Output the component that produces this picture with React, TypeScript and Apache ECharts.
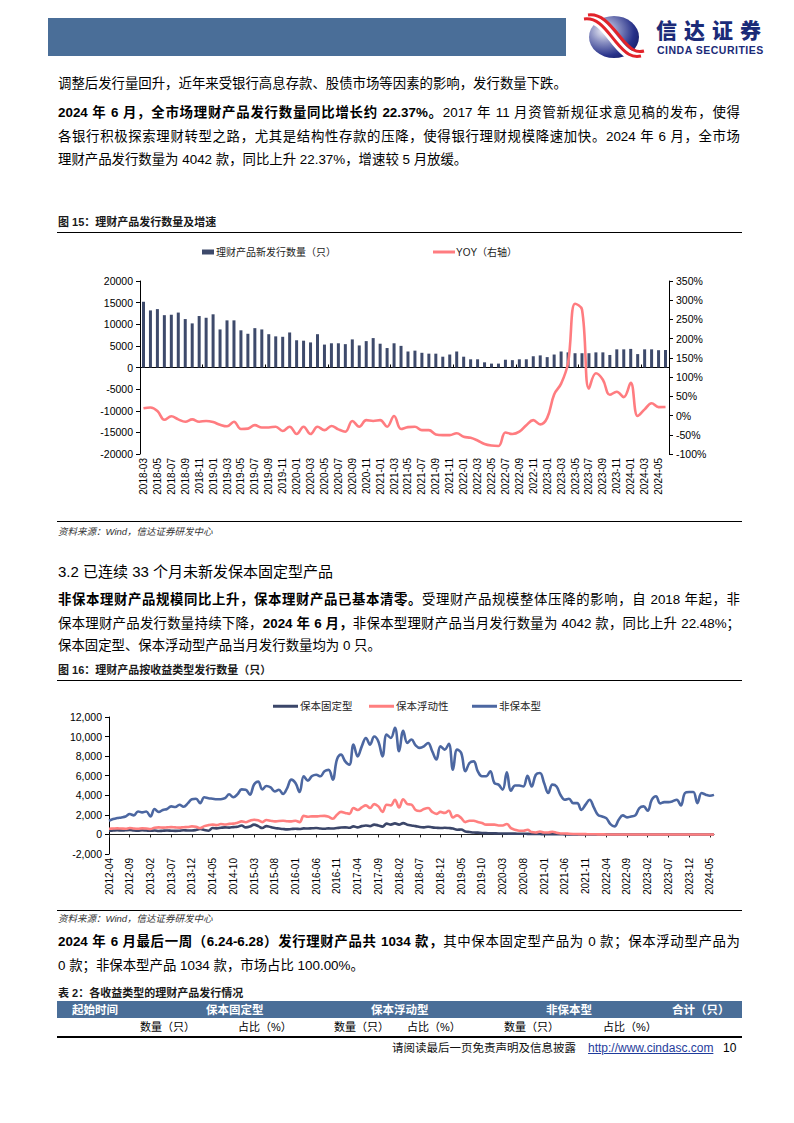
import React, { useEffect, useRef } from "react";
import * as echarts from "echarts";

function monthRange(y0: number, m0: number, y1: number, m1: number): string[] {
  const out: string[] = [];
  let y = y0, m = m0;
  while (y < y1 || (y === y1 && m <= m1)) {
    out.push(`${y}-${String(m).padStart(2, "0")}`);
    m++;
    if (m > 12) { m = 1; y++; }
  }
  return out;
}

// Chart 1: 2018-03 .. 2024-06
const months1 = monthRange(2018, 3, 2024, 6);
const barName = "理财产品新发行数量（只）";
const lineName = "YOY（右轴）";
const issueCount = [
  15200, 13200, 13500, 12100, 12200, 12700, 11200, 10200, 11900, 11500,
  12300, 8800, 10900, 10900, 8600, 7800, 9100, 8800, 7700, 7200,
  7100, 8100, 6300, 6200, 5800, 7700, 5300, 5600, 5600, 5400,
  6500, 5100, 6100, 6800, 5500, 4500, 5600, 5000, 3700, 3900,
  3400, 3200, 3200, 2500, 3000, 3700, 2500, 1900, 1900, 1200,
  900, 900, 1800, 1700, 1900, 1900, 2600, 2800, 2400, 3000,
  3700, 3500, 3300, 3300, 3300, 3500, 3500, 2900, 4200, 4200,
  4300, 3100, 4200, 4200, 4000, 4042,
];
const yoy = [
  19, 21, 12, -11, -2, -10, -16, -10, -16, -14,
  -17, -24, -28, -16, -35, -34, -25, -31, -31, -29,
  -40, -29, -48, -29, -48, -29, -38, -27, -36, -42,
  -14, -29, -12, -14, -12, -29, -1, -35, -30, -29,
  -38, -38, -49, -51, -51, -46, -55, -58, -65, -74,
  -78, -79, -44, -48, -42, -25, -12, -23, -6, 55,
  83, 137, 291, 276, 70, 110, 93, 54, 62, 48,
  85, -1, 16, 32, 22, 22.37,
];
const leftTicks1 = { min: -20000, max: 20000, interval: 5000 };
const rightTicks1 = { min: -100, max: 350, interval: 50 };

// Chart 2: 2012-04 .. 2024-06
const months2 = monthRange(2012, 4, 2024, 6);
const nameFixed = "保本固定型";
const nameFloat = "保本浮动性";
const nameNon = "非保本型";
const fixedVals = [
  380, 400, 420, 400, 430, 450, 400, 380, 420, 400,
  380, 400, 350, 380, 400, 380, 360, 380, 420, 400,
  400, 450, 550, 450, 380, 650, 620, 680, 720, 700,
  750, 780, 920, 720, 800, 1000, 850, 650, 850, 750,
  650, 600, 550, 520, 550, 580, 550, 620, 600, 630,
  650, 600, 580, 620, 600, 650, 700, 720, 680, 820,
  720, 850, 920, 850, 1000, 920, 800, 1100, 1000, 1130,
  1000, 1160, 1000, 920, 850, 750, 720, 780, 720, 680,
  650, 680, 650, 600, 480, 500, 300, 250, 200, 180,
  140, 130, 120, 110, 100, 100, 90, 80, 80, 70,
  70, 60, 50, 50, 40, 30, 30, 20, 20, 20,
  10, 10, 10, 10, 10, 0, 0, 0, 0, 0,
  0, 0, 0, 0, 0, 0, 0, 0, 0, 0,
  0, 0, 0, 0, 0, 0, 0, 0, 0, 0,
  0, 0, 0, 0, 0, 0, 0,
];
const floatVals = [
  580, 600, 620, 600, 580, 650, 600, 580, 620, 600,
  550, 680, 720, 700, 720, 750, 720, 700, 740, 760,
  820, 780, 650, 850, 950, 1000, 950, 1060, 1020, 1080,
  1100, 1200, 1330, 1250, 1400, 1500, 1450, 1260, 1470, 1400,
  1330, 1380, 1400, 1350, 1330, 1400, 1260, 1900, 1800, 1850,
  1840, 1880, 1900, 1800, 1600, 2000, 2300, 2200, 2100, 2700,
  2500, 2760, 2970, 2700, 3100, 2870, 2300, 3040, 2970, 3550,
  2760, 3600, 3100, 3040, 2500, 2400, 2600, 2700, 2300, 2100,
  2300, 2200, 2420, 1740, 1950, 1670, 1260, 1400, 1400, 1260,
  1160, 1000, 1000, 1000, 920, 920, 1060, 650, 480, 380,
  380, 480, 240, 200, 300, 200, 200, 270, 170, 100,
  100, 70, 50, 40, 30, 30, 20, 20, 10, 10,
  0, 0, 0, 0, 0, 0, 0, 0, 0, 0,
  0, 0, 0, 0, 0, 0, 0, 0, 0, 0,
  0, 0, 0, 0, 0, 0, 0,
];
const nonVals = [
  1400, 1570, 1670, 1740, 1840, 2080, 1950, 2350, 2250, 2350,
  1840, 2600, 2300, 2500, 2600, 2870, 2800, 3040, 2830, 3170,
  3600, 3650, 3200, 3800, 3700, 3650, 3600, 3600, 3700, 4100,
  3800, 4100, 4600, 4570, 4060, 5100, 5400, 4600, 4950, 4800,
  4400, 4570, 4130, 4740, 5600, 5260, 4330, 5940, 5500, 5970,
  6100, 5940, 6450, 6600, 5600, 7650, 8160, 7470, 7130, 9180,
  7980, 9000, 9860, 9180, 10000, 9500, 7980, 10200, 9860, 10900,
  8500, 10600, 9350, 9700, 9100, 8840, 9000, 9350, 8500, 7650,
  9000, 8670, 9250, 6620, 8670, 8330, 6450, 7300, 7470, 6450,
  5940, 5940, 6450, 5260, 5090, 4570, 6350, 4470, 5000, 5000,
  4900, 6000, 4900, 6100, 6280, 5260, 4230, 5090, 4900, 4000,
  3550, 3650, 3200, 3200, 2500, 3040, 3550, 2760, 2000, 1840,
  1670, 1060, 820, 1500, 1950, 1740, 1840, 1950, 2700, 2870,
  2420, 3550, 3900, 3170, 3300, 3300, 3380, 3550, 2970, 4230,
  4330, 4330, 3200, 4230, 4060, 3960, 4042,
];
const yTicks2 = { min: -2000, max: 12000, interval: 2000 };

const LAT = '"Liberation Sans", Arial, sans-serif';
const CJK = '"Liberation Sans", "Noto Sans CJK SC", sans-serif';
const HEADER_BLUE = "#4a6e98";

function option1(): any {
  const axisCol = "#000";
  return {
    animation: false,
    textStyle: { fontFamily: LAT },
    legend: [
      {
        data: [{ name: barName, icon: "rect" }],
        left: 140, top: 2, itemWidth: 12, itemHeight: 5, itemGap: 0,
        textStyle: { fontSize: 10, color: "#222", fontFamily: CJK, padding: [0, 0, 0, -3] },
      },
      {
        data: [{ name: lineName, icon: "rect" }],
        left: 371, top: 2, itemWidth: 22, itemHeight: 3, itemGap: 0,
        textStyle: { fontSize: 10, color: "#222", fontFamily: CJK, padding: [0, 0, 0, -4] },
      },
    ],
    grid: { left: 83, right: 73, top: 41, bottom: 66 },
    xAxis: [
      {
        type: "category", data: months1, position: "bottom",
        axisLine: { onZero: true, lineStyle: { color: axisCol, width: 1 } },
        axisTick: { show: true, inside: true, length: 3, lineStyle: { color: axisCol } },
        axisLabel: { show: false },
      },
      {
        type: "category", data: months1, position: "bottom",
        axisLine: { show: false, onZero: false },
        axisTick: { show: false },
        axisLabel: { rotate: 90, interval: 1, fontSize: 10, color: "#000", margin: 4, fontFamily: LAT },
      },
    ],
    yAxis: [
      {
        type: "value", ...leftTicks1,
        axisLine: { show: true, lineStyle: { color: axisCol } },
        axisTick: { show: true, length: 4, lineStyle: { color: axisCol } },
        splitLine: { show: false },
        axisLabel: { fontSize: 10.5, color: "#000", margin: 7, formatter: (v: number) => String(v) },
      },
      {
        type: "value", position: "right", ...rightTicks1,
        axisLine: { show: true, lineStyle: { color: axisCol } },
        axisTick: { show: true, length: 4, lineStyle: { color: axisCol } },
        splitLine: { show: false },
        axisLabel: { fontSize: 10.5, color: "#000", margin: 7, formatter: "{value}%" },
      },
    ],
    series: [
      {
        type: "bar", name: barName, data: issueCount, xAxisIndex: 0, yAxisIndex: 0,
        barWidth: 3, itemStyle: { color: "#3e4a6b" },
      },
      {
        type: "line", name: lineName, data: yoy, xAxisIndex: 0, yAxisIndex: 1,
        smooth: 0.4, symbol: "none",
        lineStyle: { width: 2.6, color: "#ff7c80" }, itemStyle: { color: "#ff7c80" },
      },
    ],
  };
}

function option2(): any {
  const axisCol = "#000";
  const leg = (name: string, left: number) => ({
    data: [{ name, icon: "rect" }],
    left, top: 8, itemWidth: 25, itemHeight: 3, itemGap: 0,
    textStyle: { fontSize: 10.5, color: "#222", fontFamily: CJK, padding: [0, 0, 0, -3] },
  });
  return {
    animation: false,
    textStyle: { fontFamily: LAT },
    legend: [leg(nameFixed, 211), leg(nameFloat, 307), leg(nameNon, 410)],
    grid: { left: 52, right: 28, top: 29, bottom: 56 },
    xAxis: [
      {
        type: "category", data: months2, boundaryGap: false, position: "bottom",
        axisLine: { onZero: true, lineStyle: { color: "#222", width: 1 } },
        axisTick: { show: true, interval: 4, length: 3, lineStyle: { color: "#222" } },
        axisLabel: { show: false },
      },
      {
        type: "category", data: months2, boundaryGap: false, position: "bottom",
        axisLine: { show: false, onZero: false },
        axisTick: { show: false },
        axisLabel: { rotate: 90, interval: 4, fontSize: 10, color: "#000", margin: 4, fontFamily: LAT },
      },
    ],
    yAxis: [
      {
        type: "value", ...yTicks2,
        axisLine: { show: true, lineStyle: { color: axisCol } },
        axisTick: { show: true, length: 4, lineStyle: { color: axisCol } },
        splitLine: { show: false },
        axisLabel: {
          fontSize: 10.5, color: "#000", margin: 7,
          formatter: (v: number) => v.toLocaleString("en-US"),
        },
      },
    ],
    series: [
      {
        type: "line", name: nameFixed, data: fixedVals, smooth: 0.4, symbol: "none",
        lineStyle: { width: 2.6, color: "#3b4669" }, itemStyle: { color: "#3b4669" }, z: 3,
      },
      {
        type: "line", name: nameFloat, data: floatVals, smooth: 0.4, symbol: "none",
        lineStyle: { width: 2.6, color: "#ff7f7f" }, itemStyle: { color: "#ff7f7f" }, z: 4,
      },
      {
        type: "line", name: nameNon, data: nonVals, smooth: 0.4, symbol: "none",
        lineStyle: { width: 2.6, color: "#4c67a1" }, itemStyle: { color: "#4c67a1" }, z: 5,
      },
    ],
  };
}

const J: React.CSSProperties = { textAlign: "justify", textAlignLast: "justify" as any };

function TextLine(props: {
  y: number; x?: number; w?: number; size?: number; justify?: boolean;
  style?: React.CSSProperties; children: React.ReactNode;
}) {
  const { y, x = 58, w = 682, size = 13.4, justify = false, style, children } = props;
  const lh = 20;
  return (
    <div
      style={{
        position: "absolute", left: x, top: y - lh / 2, width: w, height: lh,
        lineHeight: `${lh}px`, fontSize: size, whiteSpace: "nowrap", color: "#000",
        ...(justify ? J : {}), ...style,
      }}
    >
      {children}
    </div>
  );
}

const B = (p: { children: React.ReactNode }) => <b style={{ fontWeight: 700 }}>{p.children}</b>;

function HLine(p: { y: number; x1?: number; x2?: number; w?: number; color?: string }) {
  const { y, x1 = 57, x2 = 742, w = 1, color = "#000" } = p;
  return <div style={{ position: "absolute", left: x1, top: y - w / 2, width: x2 - x1, height: w, background: color }} />;
}

export default function App() {
  const r1 = useRef<HTMLDivElement>(null);
  const r2 = useRef<HTMLDivElement>(null);
  useEffect(() => {
    const c1 = echarts.init(r1.current!, null, { renderer: "svg" });
    c1.setOption(option1());
    const c2 = echarts.init(r2.current!, null, { renderer: "svg" });
    c2.setOption(option2());
    return () => {
      c1.dispose();
      c2.dispose();
    };
  }, []);

  const titleStyle: React.CSSProperties = { fontWeight: 700, color: "#1a1a1a" };
  const srcStyle: React.CSSProperties = { fontStyle: "italic", color: "#333" };

  return (
    <div
      style={{
        position: "absolute", left: 0, top: 0, width: 794, height: 1123,
        background: "#fff", fontFamily: CJK, overflow: "hidden",
      }}
    >
      {/* header */}
      <div style={{ position: "absolute", left: 48, top: 18, width: 518, height: 38, background: HEADER_BLUE }} />
      <svg style={{ position: "absolute", left: 0, top: 0 }} width={794} height={70}>
        <defs>
          <radialGradient id="lg" cx="0.3" cy="0.35" r="0.8">
            <stop offset="0" stopColor="#f2f3f8" />
            <stop offset="0.35" stopColor="#8a90c2" />
            <stop offset="0.75" stopColor="#28328a" />
            <stop offset="1" stopColor="#161d66" />
          </radialGradient>
        </defs>
        <ellipse cx={614} cy={37} rx={25} ry={21} fill="url(#lg)" />
        <path d="M584 19 C598 17, 606 30, 616 42 S 632 58, 641 56" stroke="#fff" strokeWidth={9} fill="none" />
        <path d="M584 19 C598 17, 606 30, 616 42 S 632 58, 641 56" stroke="#e2232a" strokeWidth={3} fill="none" />
        <path d="M588 15 C602 13, 611 26, 621 38 S 636 53, 644 51" stroke="#e2232a" strokeWidth={3} fill="none" />
      </svg>
      <div style={{ position: "absolute", left: 656, top: 19, height: 20, fontSize: 21, lineHeight: "20px", fontWeight: 900, color: "#1b2b78", fontFamily: '"Noto Sans CJK SC", sans-serif', letterSpacing: 7, whiteSpace: "nowrap" }}>
        信达证券
      </div>
      <div style={{ position: "absolute", left: 657, top: 45, height: 11, fontSize: 10.5, lineHeight: "11px", fontWeight: 700, color: "#1b2b78", fontFamily: LAT, letterSpacing: 0.5, whiteSpace: "nowrap" }}>
        CINDA SECURITIES
      </div>

      {/* paragraph 1 */}
      <TextLine y={84}>调整后发行量回升，近年来受银行高息存款、股债市场等因素的影响，发行数量下跌。</TextLine>
      <TextLine y={113} justify>
        <B>2024 年 6 月，全市场理财产品发行数量同比增长约 22.37%。</B>2017 年 11 月资管新规征求意见稿的发布，使得
      </TextLine>
      <TextLine y={137} justify>
        各银行积极探索理财转型之路，尤其是结构性存款的压降，使得银行理财规模降速加快。2024 年 6 月，全市场
      </TextLine>
      <TextLine y={160}>理财产品发行数量为 4042 款，同比上升 22.37%，增速较 5 月放缓。</TextLine>

      {/* figure 15 */}
      <TextLine y={222} size={11} style={titleStyle}>图 15：理财产品发行数量及增速</TextLine>
      <HLine y={232} />
      <div ref={r1} style={{ position: "absolute", left: 57, top: 240, width: 685, height: 280 }} />
      <HLine y={521} />
      <TextLine y={532} size={9.5} style={srcStyle}>资料来源：Wind，信达证券研发中心</TextLine>

      {/* section 3.2 */}
      <TextLine y={572} size={15}>3.2 已连续 33 个月未新发保本固定型产品</TextLine>
      <TextLine y={600} justify>
        <B>非保本理财产品规模同比上升，保本理财产品已基本清零。</B>受理财产品规模整体压降的影响，自 2018 年起，非
      </TextLine>
      <TextLine y={624} justify>
        保本理财产品发行数量持续下降，<B>2024 年 6 月，</B>非保本型理财产品当月发行数量为 4042 款，同比上升 22.48%；
      </TextLine>
      <TextLine y={646}>保本固定型、保本浮动型产品当月发行数量均为 0 只。</TextLine>

      {/* figure 16 */}
      <TextLine y={670} size={11} style={titleStyle}>图 16：理财产品按收益类型发行数量（只）</TextLine>
      <HLine y={680} />
      <div ref={r2} style={{ position: "absolute", left: 57, top: 688, width: 685, height: 222 }} />
      <HLine y={910} />
      <TextLine y={919} size={9.5} style={srcStyle}>资料来源：Wind，信达证券研发中心</TextLine>

      <TextLine y={942} justify>
        <B>2024 年 6 月最后一周（6.24-6.28）发行理财产品共 1034 款，</B>其中保本固定型产品为 0 款；保本浮动型产品为
      </TextLine>
      <TextLine y={966}>0 款；非保本型产品 1034 款，市场占比 100.00%。</TextLine>

      {/* table 2 */}
      <TextLine y={993} size={11} style={titleStyle}>表 2：各收益类型的理财产品发行情况</TextLine>
      <div style={{ position: "absolute", left: 57, top: 1001, width: 685, height: 17, background: HEADER_BLUE }} />
      {[
        ["起始时间", 72], ["保本固定型", 206], ["保本浮动型", 371], ["非保本型", 546], ["合计（只）", 672],
      ].map(([t, x]) => (
        <TextLine key={String(t) + x} y={1009.5} x={x as number} w={80} size={11.5} style={{ color: "#fff", fontWeight: 700 }}>
          {t}
        </TextLine>
      ))}
      {[
        ["数量（只）", 140], ["占比（%）", 238], ["数量（只）", 334], ["占比（%）", 407], ["数量（只）", 504], ["占比（%）", 603],
      ].map(([t, x]) => (
        <TextLine key={String(t) + x} y={1027} x={x as number} w={70} size={11}>
          {t}
        </TextLine>
      ))}
      <HLine y={1037} w={1.5} />

      {/* footer */}
      <TextLine y={1048} x={392} w={200} size={11.5} style={{ color: "#111" }}>请阅读最后一页免责声明及信息披露</TextLine>
      <TextLine y={1048} x={588} w={130} size={12} style={{ color: "#1f3c9c", textDecoration: "underline", fontFamily: LAT }}>
        http://www.cindasc.com
      </TextLine>
      <TextLine y={1048} x={723} w={20} size={12} style={{ fontFamily: LAT }}>10</TextLine>
    </div>
  );
}
